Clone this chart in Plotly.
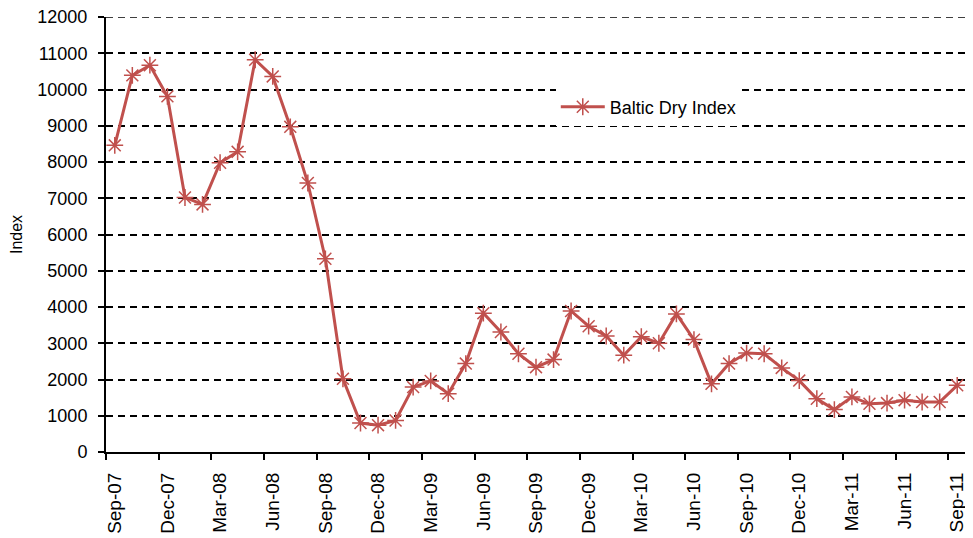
import plotly.graph_objects as go

months = ["Sep-07","Oct-07","Nov-07","Dec-07","Jan-08","Feb-08","Mar-08","Apr-08","May-08","Jun-08",
          "Jul-08","Aug-08","Sep-08","Oct-08","Nov-08","Dec-08","Jan-09","Feb-09","Mar-09","Apr-09",
          "May-09","Jun-09","Jul-09","Aug-09","Sep-09","Oct-09","Nov-09","Dec-09","Jan-10","Feb-10",
          "Mar-10","Apr-10","May-10","Jun-10","Jul-10","Aug-10","Sep-10","Oct-10","Nov-10","Dec-10",
          "Jan-11","Feb-11","Mar-11","Apr-11","May-11","Jun-11","Jul-11","Aug-11","Sep-11"]
bdi = [8460, 10390, 10670, 9810, 7020, 6830, 7980, 8280, 10820, 10360,
       8970, 7420, 5330, 2020, 800, 740, 870, 1790, 1960, 1610,
       2440, 3830, 3310, 2710, 2340, 2550, 3890, 3470, 3200, 2670,
       3180, 3000, 3810, 3100, 1880, 2440, 2730, 2710, 2320, 1970,
       1470, 1170, 1520, 1330, 1350, 1430, 1380, 1380, 1840]
y_ticks = [0, 1000, 2000, 3000, 4000, 5000, 6000, 7000, 8000, 9000, 10000, 11000, 12000]
label_idx = list(range(0, len(months), 3))
label_text = [months[i] for i in label_idx]

idx = list(range(len(months)))

fig = go.Figure()
fig.add_trace(go.Scatter(
    x=idx, y=bdi, mode="lines+markers", name="Baltic Dry Index",
    line=dict(color="#C0504D", width=3),
    marker=dict(symbol="asterisk-open", size=14, color="#C0504D",
                line=dict(color="#C0504D", width=1.5)),
))

# top gridline (plotly omits the gridline at the plot edge)
fig.add_shape(type="line", xref="paper", x0=0, x1=1, yref="y",
              y0=y_ticks[-1], y1=y_ticks[-1], layer="below",
              line=dict(color="black", width=1.5, dash="7px,5px"))

fig.update_layout(
    width=965, height=530,
    margin=dict(l=98, r=7, t=9, b=86),
    paper_bgcolor="white", plot_bgcolor="white",
    font=dict(family="Liberation Sans", size=18, color="black"),
    showlegend=True,
    legend=dict(x=0.523, y=0.793, xanchor="left", yanchor="middle",
                bgcolor="white", borderwidth=0, itemwidth=44,
                font=dict(family="Liberation Sans", size=18, color="black")),
)
fig.update_xaxes(
    range=[-0.5, len(months) - 0.5], automargin=False,
    tickmode="array", tickvals=label_idx, ticktext=label_text,
    ticks="", tickangle=-90, ticklabelstandoff=11, ticklabeloverflow="allow",
    tickfont=dict(family="Liberation Sans", size=19, color="black"),
    showline=True, linecolor="black", linewidth=2,
    showgrid=False, zeroline=False,
    minor=dict(ticks="outside", tickmode="linear", tick0=-0.5, dtick=3,
               ticklen=6, tickwidth=1.5, tickcolor="black", showgrid=False),
)
fig.update_yaxes(
    range=[0, 12000], tickmode="array", tickvals=y_ticks,
    tickformat="d", automargin=False, ticklabeloverflow="allow",
    title=dict(text="Index", font=dict(family="Liberation Sans", size=16, color="black"), standoff=12),
    tickfont=dict(family="Liberation Sans", size=18, color="black"),
    ticks="outside", ticklen=6, tickcolor="black", tickwidth=1.5, ticklabelstandoff=7,
    showline=True, linecolor="black", linewidth=2,
    showgrid=True, gridcolor="black", griddash="7px,5px", gridwidth=1.5,
    zeroline=False,
)

fig.write_html("out.html")
